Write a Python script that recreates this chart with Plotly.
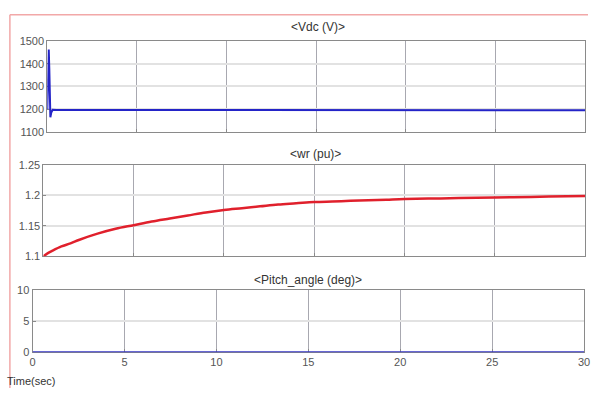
import plotly.graph_objects as go

# ---- data ----
t_vdc = [0, 0.08, 0.11, 0.14, 0.17, 0.22, 0.3, 0.5, 1, 5, 10, 15, 20, 21, 25, 30]
vdc = [1200, 1462, 1380, 1250, 1165, 1185, 1198, 1197, 1197, 1197, 1197, 1197, 1197, 1196, 1196, 1196]

t_wr = [0, 0.25, 0.5, 1, 1.5, 2, 3, 4, 5, 6, 7, 8, 9, 10, 11, 12, 13, 14, 15, 16, 17, 18, 19, 20, 22, 24, 26, 28, 30]
wr = [1.100, 1.105, 1.109, 1.116, 1.121, 1.127, 1.137, 1.145, 1.151, 1.157, 1.162, 1.167, 1.172, 1.176,
      1.179, 1.182, 1.185, 1.187, 1.189, 1.190, 1.191, 1.192, 1.193, 1.194, 1.195, 1.196, 1.197, 1.198, 1.199]

t_pitch = [0, 30]
pitch = [0, 0]

titles = ["<Vdc (V)>", "<wr (pu)>", "<Pitch_angle (deg)>"]
x_ticks = [0, 5, 10, 15, 20, 25, 30]
y1_ticks = [1100, 1200, 1300, 1400, 1500]
y2_ticks = [1.1, 1.15, 1.2, 1.25]
y2_labels = ["1.1", "1.15", "1.2", "1.25"]
y3_ticks = [0, 5, 10]

W, H = 594, 394
def px(x): return x / W
def py(y): return 1 - y / H

fig = go.Figure()
fig.add_trace(go.Scatter(x=t_vdc, y=vdc, mode="lines", line=dict(color="#2424c8", width=2),
                         xaxis="x", yaxis="y", showlegend=False))
fig.add_trace(go.Scatter(x=t_wr, y=wr, mode="lines", line=dict(color="#e0202c", width=2.5, shape="spline"),
                         xaxis="x2", yaxis="y2", showlegend=False))
fig.add_trace(go.Scatter(x=t_pitch, y=pitch, mode="lines", line=dict(color="#3434c4", width=2),
                         xaxis="x3", yaxis="y3", showlegend=False, cliponaxis=False))

tickfont = dict(family="Liberation Sans, Arial, sans-serif", size=11, color="#555555")
common_x = dict(range=[0, 30], tickvals=x_ticks, showgrid=True, gridcolor="#a8a8b0", gridwidth=1,
                showline=True, linecolor="#8a8a8a", linewidth=1, mirror=True, zeroline=False,
                ticks="inside", ticklen=3, tickcolor="#8a8a8a", tickfont=tickfont,
                ticklabeloverflow="allow", layer="below traces")
common_y = dict(showgrid=True, gridcolor="#e2e2e2", gridwidth=2, showline=True, linecolor="#8a8a8a",
                linewidth=1, mirror=True, zeroline=False, ticks="inside", ticklen=3, tickcolor="#8a8a8a",
                tickfont=tickfont, layer="below traces")

fig.update_layout(
    width=W, height=H, margin=dict(l=0, r=0, t=0, b=0),
    paper_bgcolor="white", plot_bgcolor="white",
    xaxis=dict(domain=[px(45), px(591)], anchor="y", showticklabels=False, **common_x),
    yaxis=dict(domain=[py(130), py(36)], anchor="x", range=[1100, 1500], tickvals=y1_ticks, **common_y),
    xaxis2=dict(domain=[px(41), px(591)], anchor="y2", showticklabels=False, **common_x),
    yaxis2=dict(domain=[py(258), py(164)], anchor="x2", range=[1.1, 1.25], tickvals=y2_ticks,
                ticktext=y2_labels, **common_y),
    xaxis3=dict(domain=[px(30), px(590)], anchor="y3", showticklabels=True, **common_x),
    yaxis3=dict(domain=[py(357), py(293)], anchor="x3", range=[0, 10], tickvals=y3_ticks, **common_y),
)

titlefont = dict(family="Liberation Sans, Arial, sans-serif", size=12, color="#333333")
for txt, xc, yc in zip(titles, [320, 317, 310], [22, 153, 283]):
    fig.add_annotation(text=txt.replace("<", "&lt;").replace(">", "&gt;"), x=px(xc), y=py(yc),
                       xref="paper", yref="paper", showarrow=False, font=titlefont,
                       xanchor="center", yanchor="middle")

fig.add_annotation(text="Time(sec)", x=px(2), y=py(387), xref="paper", yref="paper",
                   showarrow=False, font=dict(family="Liberation Sans, Arial, sans-serif", size=11, color="#333333"),
                   xanchor="left", yanchor="middle")

# pink frame
fig.add_shape(type="line", xref="paper", yref="paper", x0=px(7), x1=px(7), y0=0, y1=py(9),
              line=dict(color="#f2a8a8", width=1.5))
fig.add_shape(type="line", xref="paper", yref="paper", x0=px(7), x1=1, y0=py(9), y1=py(9),
              line=dict(color="#f2a8a8", width=1.5))

fig.write_html("out.html", config={"displayModeBar": False},
               post_script=("document.documentElement.style.margin='0px';"
                            "document.documentElement.style.overflow='hidden';"
                            "document.body.style.margin='0px';document.body.style.padding='0px';"
                            "document.body.style.overflow='hidden';"
                            "var d=document.querySelector('.plotly-graph-div');"
                            "d.style.position='fixed';d.style.top='0px';d.style.left='0px';"))
